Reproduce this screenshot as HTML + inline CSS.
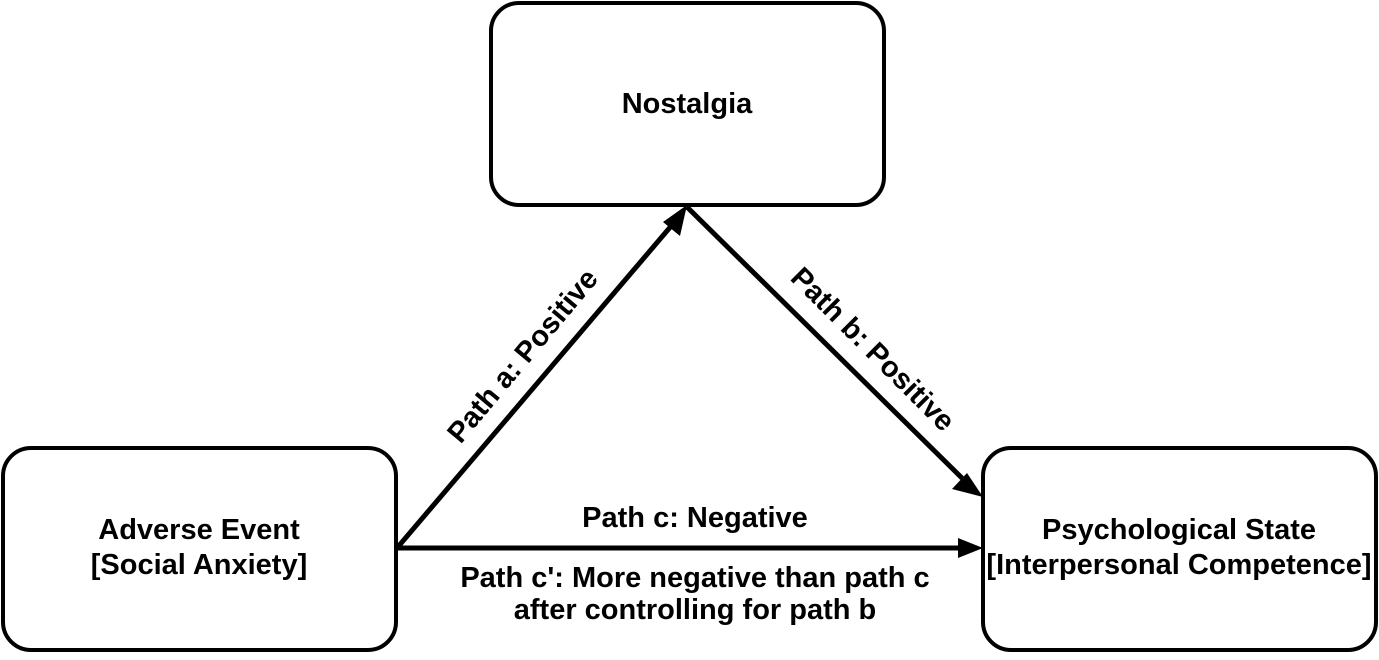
<!DOCTYPE html>
<html><head><meta charset="utf-8"><style>
html,body{margin:0;padding:0;background:#fff;}
svg text{font-family:"Liberation Sans",Arial,sans-serif;font-weight:bold;font-size:29px;fill:#000;}
</style></head><body>
<svg width="1379" height="655" viewBox="0 0 1379 655" xmlns="http://www.w3.org/2000/svg">
<g fill="#fff" stroke="#000" stroke-width="4">
<rect x="491" y="3" width="393" height="202" rx="28"/>
<rect x="3" y="448" width="393" height="202" rx="28"/>
<rect x="983" y="448" width="393" height="202" rx="28"/>
</g>
<g stroke="#000" stroke-width="5" fill="none">
<line x1="397" y1="548" x2="672" y2="225"/>
<line x1="687" y1="207" x2="966" y2="482"/>
<line x1="397" y1="548" x2="962" y2="548"/>
</g>
<g fill="#000">
<polygon points="687,205 680,236 663,222"/>
<polygon points="983,497 952,489 967,473"/>
<polygon points="983,548 958,538 958,558"/>
</g>
<text x="687" y="113" text-anchor="middle">Nostalgia</text>
<text x="199" y="539" text-anchor="middle">Adverse Event</text>
<text x="199" y="574" text-anchor="middle">[Social Anxiety]</text>
<text x="1179" y="539" text-anchor="middle">Psychological State</text>
<text x="1179" y="574" text-anchor="middle">[Interpersonal Competence]</text>
<text x="695" y="527" text-anchor="middle">Path c: Negative</text>
<text x="695" y="587" text-anchor="middle">Path c': More negative than path c</text>
<text x="695" y="619" text-anchor="middle">after controlling for path b</text>
<text transform="translate(530,362) rotate(-50)" text-anchor="middle">Path a: Positive</text>
<text transform="translate(866,356) rotate(45)" text-anchor="middle">Path b: Positive</text>
</svg>
</body></html>
